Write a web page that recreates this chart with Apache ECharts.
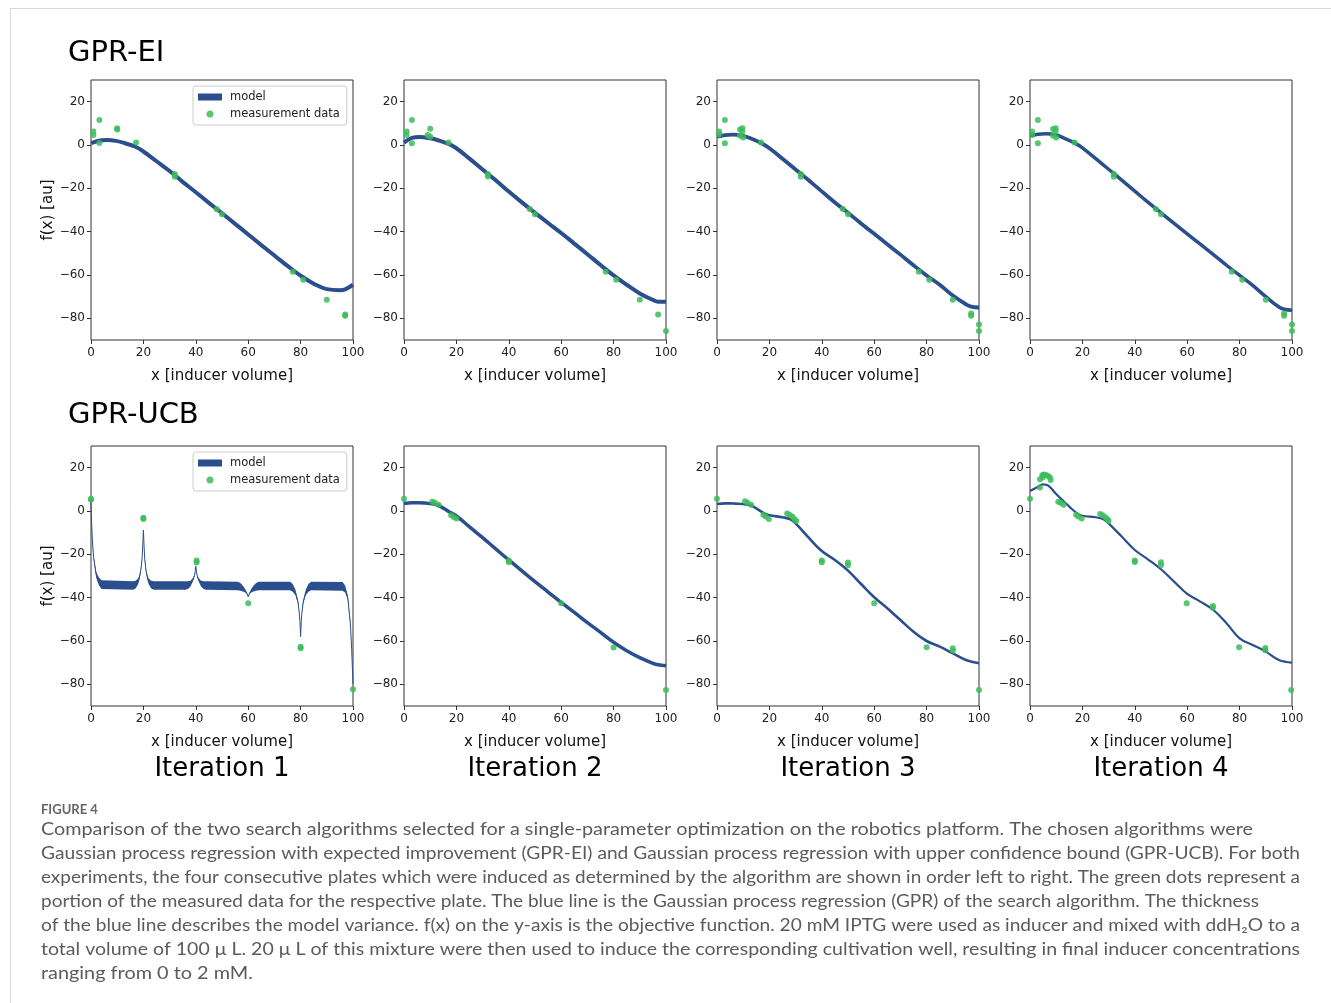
<!DOCTYPE html>
<html>
<head>
<meta charset="utf-8">
<title>GPR-EI / GPR-UCB</title>
<script src="https://cdn.jsdelivr.net/npm/echarts@6/dist/echarts.min.js"></script>
<style>
  html, body { margin: 0; padding: 0; background: #fff; }
  #main { width: 1331px; height: 1003px; }
</style>
</head>
<body>
<div id="main"></div>
<script>
// ---- model curves (x grid + mean) ----
const curveX = [0, 3, 6, 10, 13, 17, 20, 25, 30, 35, 40, 45, 50, 55, 60, 65, 70, 75, 80, 85, 90, 95, 97, 100];
const curveX2 = [0, 3, 5, 7, 10, 13, 15, 18, 20, 25, 28, 30, 35, 40, 45, 50, 55, 60, 65, 70, 75, 80, 85, 90, 95, 100];

const ei1Mean = [0.8, 2, 2.3, 1.8, 0.8, -0.8, -3, -7.5, -12, -17, -21.8, -26.7, -31.5, -36.4, -41.3, -46.2, -51, -55.8, -60.3, -64, -66.5, -67, -66.6, -64.5];
const ei2Mean = [1, 3.3, 3.7, 3.1, 2.2, 0.5, -1.5, -6.3, -11.3, -16.3, -21.5, -26.5, -31.3, -36, -40.6, -45.5, -50.4, -55.4, -60.2, -64.5, -68.5, -71.5, -72.3, -72.3];
const ei3Mean = [3.8, 4.6, 4.8, 4.2, 3, 0.8, -1.5, -6.3, -11.3, -16.3, -21.4, -26.5, -31.3, -36.2, -41, -45.8, -50.6, -55.5, -60.2, -64.5, -69.5, -73.5, -74.6, -75];
const ei4Mean = [4.2, 5, 5.2, 4.6, 3.2, 1, -1.3, -6.2, -11.2, -16.2, -21.3, -26.4, -31.3, -36.2, -41, -45.8, -50.6, -55.5, -60.2, -64.8, -70, -74.8, -75.8, -76.3];
const ucb2Mean = [3.5, 3.8, 3.8, 3.4, 2.6, -0.2, -2.3, -7.3, -12.3, -17.5, -22.6, -27.6, -32.6, -37.4, -42.2, -46.8, -51.5, -56, -60.6, -64.5, -67.7, -70.3, -71, -71.4];
const ucb3Mean = [3.2, 3.5, 3.5, 3.4, 3.2, 2.5, 1.2, -1.1, -2, -2.9, -3.8, -5.7, -12.3, -18.5, -22.6, -27.5, -33.7, -39.8, -44.9, -50.3, -55.7, -60, -62.6, -65.7, -68.8, -70.3];
const ucb4Mean = [9.2, 11.2, 12.3, 11.7, 7.8, 4.3, 2, -1.1, -2.2, -2.9, -3.8, -5.7, -11.8, -18, -22.3, -26.9, -32.6, -38.3, -41.8, -45.7, -51.8, -58.8, -61.8, -64.9, -68.8, -70];

// GPR-UCB iteration 1: mean and half thickness (model variance)
const ucb1X = [0, 0.25, 0.5, 1, 2, 3, 4, 16, 17, 18, 18.5, 19, 19.5, 19.75, 20, 20.25, 20.5, 21, 21.5, 22, 23, 24,
  36, 37, 38, 39, 39.5, 39.75, 40, 40.25, 40.5, 41, 42, 43, 44,
  56, 57, 58, 59, 59.5, 60, 60.5, 61, 62, 63, 64,
  76, 77, 78, 79, 79.5, 79.75, 80, 80.25, 80.5, 81, 82, 83, 84,
  96, 97, 98, 99, 99.5, 100];
const ucb1Mean = [4, -6, -13, -21.5, -29.5, -32.5, -34, -34.4, -34, -32.5, -30.5, -27.5, -22, -16, -8.8, -16, -22, -27.5, -30.5, -32.5, -34, -34.4,
  -34.4, -34.2, -33.5, -31.5, -29.8, -28, -25.5, -28, -29.8, -31.5, -33.5, -34.2, -34.4,
  -34.6, -35, -35.8, -37, -38, -39.6, -38, -37, -35.8, -35, -34.6,
  -34.6, -35.5, -37.5, -42, -47, -51, -58, -51, -47, -42, -37.5, -35.5, -34.6,
  -34.8, -36, -40, -52, -64, -80];
const ucb1Half = [0, 0.1, 0.3, 0.7, 1.3, 1.8, 2, 2, 1.8, 1.3, 1, 0.7, 0.3, 0.1, 0, 0.1, 0.3, 0.7, 1, 1.3, 1.8, 2,
  2, 1.8, 1.3, 0.7, 0.3, 0.1, 0, 0.1, 0.3, 0.7, 1.3, 1.8, 2,
  2, 1.8, 1.3, 0.7, 0.3, 0, 0.3, 0.7, 1.3, 1.8, 2,
  2, 1.8, 1.3, 0.7, 0.3, 0.1, 0, 0.1, 0.3, 0.7, 1.3, 1.8, 2,
  2, 1.6, 1, 0.4, 0.1, 0];

// ---- measurement data ----
const ei1PtsX = [0.9, 0.9, 3.2, 3.2, 10, 10, 17.2, 32, 32, 48, 50, 77, 81, 90, 97, 97];
const ei1PtsY = [6.2, 4.6, 11.5, 0.9, 7.7, 7.2, 1.1, -13.4, -14.6, -29.7, -32, -58.5, -62.2, -71.4, -78.2, -78.8];
const ei2PtsX = [1, 1, 3, 3, 9, 10, 10, 17, 32, 32, 48, 50, 77, 81, 90, 97, 100];
const ei2PtsY = [6.2, 4.6, 11.5, 0.8, 4.6, 7.5, 3.8, 1.1, -13.4, -14.5, -29.5, -32, -58.5, -62.2, -71.4, -78.2, -85.8];
const ei3PtsX = [0.8, 0.8, 3, 3, 8.8, 9.7, 9.7, 8.8, 10, 16.8, 32, 32, 48, 50, 77, 81, 90, 97, 97, 100, 100];
const ei3PtsY = [6.2, 4.9, 11.5, 0.8, 7.2, 7.7, 6.2, 4.3, 3.5, 1.1, -13.4, -14.6, -29.5, -32, -58.5, -62.2, -71.4, -77.8, -78.8, -82.8, -85.8];
const ei4PtsX = [0.8, 0.8, 3, 3, 8.8, 9.8, 9.8, 8.8, 10, 17, 32, 32, 48, 50, 77, 81, 90, 97, 97, 100, 100];
const ei4PtsY = [6.2, 4.6, 11.5, 0.8, 7.4, 7.7, 6.2, 4.3, 3.5, 1.1, -13.4, -14.6, -29.5, -32, -58.5, -62.2, -71.4, -77.8, -78.8, -82.8, -85.8];
const ucb1PtsX = [0, 0, 20, 20, 40.3, 40.3, 60, 80, 80, 100];
const ucb1PtsY = [5.7, 5.2, -3.1, -3.7, -22.9, -23.8, -42.6, -62.6, -63.4, -82.3];
const ucb2PtsX = [0, 10.8, 11.8, 13.2, 18, 19, 20, 40, 40, 60, 80, 100];
const ucb2PtsY = [5.7, 4.3, 3.8, 2.9, -2, -2.8, -3.5, -22.9, -23.7, -42.6, -63, -82.6];
const ucb3PtsX = [0, 10.7, 11.7, 13, 17.7, 18.6, 19.8, 26.8, 27.8, 28.8, 29.6, 30.3, 40, 40, 50, 50, 60, 80, 90, 90, 100];
const ucb3PtsY = [5.7, 4.5, 3.8, 2.9, -1.7, -2.5, -3.7, -1.1, -1.8, -2.6, -3.8, -4.6, -22.9, -23.7, -23.8, -25, -42.6, -62.9, -63.4, -64.5, -82.6];
const ucb4PtsX = [0, 3.8, 3.8, 4.7, 4.8, 5.3, 6.1, 6.9, 7.6, 7.9, 10.8, 11.7, 12.8, 17.6, 18.4, 19.7, 26.8, 27.7, 28.8, 29.5, 30, 40, 40, 50, 50, 59.8, 69.8, 69.8, 79.8, 89.8, 89.8, 99.7];
const ucb4PtsY = [5.7, 14.6, 10.8, 16.5, 15.5, 16.8, 16.6, 16.2, 15.5, 14.3, 4.3, 3.8, 2.9, -1.7, -2.5, -3.5, -1.4, -2, -2.9, -3.8, -4.6, -22.9, -23.5, -23.7, -25, -42.6, -43.8, -44.6, -62.9, -63.2, -64.3, -82.6];

const yTicks = [-80, -60, -40, -20, 0, 20];
const rowTitles = ['GPR-EI', 'GPR-UCB'];
const colTitles = ['Iteration 1', 'Iteration 2', 'Iteration 3', 'Iteration 4'];
const captionHead = 'FIGURE 4';
const captionLines = [
  'Comparison of the two search algorithms selected for a single-parameter optimization on the robotics platform. The chosen algorithms were',
  'Gaussian process regression with expected improvement (GPR-EI) and Gaussian process regression with upper confidence bound (GPR-UCB). For both',
  'experiments, the four consecutive plates which were induced as determined by the algorithm are shown in order left to right. The green dots represent a',
  'portion of the measured data for the respective plate. The blue line is the Gaussian process regression (GPR) of the search algorithm. The thickness',
  'of the blue line describes the model variance. f(x) on the y-axis is the objective function. 20 mM IPTG were used as inducer and mixed with ddH\u2082O to a',
  'total volume of 100 \u03bc L. 20 \u03bc L of this mixture were then used to induce the corresponding cultivation well, resulting in final inducer concentrations',
  'ranging from 0 to 2 mM.'
];

const panels = [
  { x: curveX, mean: ei1Mean, px: ei1PtsX, py: ei1PtsY },
  { x: curveX, mean: ei2Mean, px: ei2PtsX, py: ei2PtsY },
  { x: curveX, mean: ei3Mean, px: ei3PtsX, py: ei3PtsY },
  { x: curveX, mean: ei4Mean, px: ei4PtsX, py: ei4PtsY },
  { x: ucb1X, mean: ucb1Mean, half: ucb1Half, px: ucb1PtsX, py: ucb1PtsY },
  { x: curveX, mean: ucb2Mean, px: ucb2PtsX, py: ucb2PtsY },
  { x: curveX2, mean: ucb3Mean, px: ucb3PtsX, py: ucb3PtsY },
  { x: curveX2, mean: ucb4Mean, px: ucb4PtsX, py: ucb4PtsY }
];
const lineWidths = [4, 4, 3.8, 3.5, 1, 3.5, 2.6, 2.2];

const BLUE = '#2b4f8e';
const GREEN = '#3cbc5a';
const FONT = 'DejaVu Sans';
const colLeft = [91, 404, 717, 1030];
const rowTop = [80, 446];
const W = 262, H = 260;

const minus = v => String(v).replace('-', '\u2212');

const grids = [], xAxes = [], yAxes = [], series = [];
panels.forEach((p, i) => {
  const r = Math.floor(i / 4), c = i % 4;
  grids.push({
    left: colLeft[c], top: rowTop[r], width: W, height: H,
    show: true, borderColor: '#333', borderWidth: 1
  });
  xAxes.push({
    gridIndex: i, type: 'value', min: 0, max: 100, interval: 20,
    name: 'x [inducer volume]', nameLocation: 'middle', nameGap: 29,
    nameTextStyle: { fontSize: 15, color: '#111', fontFamily: FONT },
    axisLine: { show: false, onZero: false },
    axisTick: { show: true, length: 4, lineStyle: { color: '#333' } },
    axisLabel: { fontSize: 12, color: '#222', margin: 7, fontFamily: FONT },
    splitLine: { show: false }
  });
  yAxes.push({
    gridIndex: i, type: 'value', min: -90, max: 30,
    name: c === 0 ? 'f(x) [au]' : '', nameLocation: 'middle', nameGap: 35, nameRotate: 90,
    nameTextStyle: { fontSize: 15, color: '#111', fontFamily: FONT },
    axisLine: { show: false, onZero: false },
    axisTick: { show: true, length: 4, customValues: yTicks, lineStyle: { color: '#333' } },
    axisLabel: { fontSize: 12, color: '#222', margin: 6, fontFamily: FONT, customValues: yTicks, formatter: minus },
    splitLine: { show: false }
  });

  if (p.half) {
    // variance band drawn as one polygon through the axis scales
    series.push({
      type: 'custom', name: 'model', xAxisIndex: i, yAxisIndex: i, color: BLUE, clip: true, silent: true, z: 1,
      data: p.x.map((x, j) => [x, p.mean[j] - p.half[j], p.mean[j] + p.half[j]]),
      encode: { x: 0, y: [1, 2] },
      renderItem: (params, api) => {
        if (params.dataIndex !== 0) return null;
        const up = p.x.map((x, j) => api.coord([x, p.mean[j] + p.half[j]]));
        const lo = p.x.map((x, j) => api.coord([x, p.mean[j] - p.half[j]])).reverse();
        return { type: 'polygon', shape: { points: up.concat(lo) }, style: { fill: BLUE } };
      }
    });
  }
  series.push({
    type: 'line', name: 'model', xAxisIndex: i, yAxisIndex: i, color: BLUE,
    data: p.x.map((x, j) => [x, p.mean[j]]),
    showSymbol: false, smooth: p.half ? false : 0.4,
    lineStyle: { color: BLUE, width: lineWidths[i] }, z: 2
  });
  series.push({
    type: 'scatter', name: 'measurement data', xAxisIndex: i, yAxisIndex: i, color: GREEN,
    data: p.px.map((x, j) => [x, p.py[j]]),
    symbolSize: 6, itemStyle: { color: GREEN, opacity: 0.85 }, z: 3
  });
});

const legendBase = {
  left: 193, orient: 'vertical', selectedMode: false,
  data: [{ name: 'model', icon: 'rect' }, { name: 'measurement data', icon: 'circle' }],
  itemWidth: 24, itemHeight: 7, itemGap: 5, padding: [5, 7, 5, 5],
  borderColor: '#cccccc', borderWidth: 1, borderRadius: 3, backgroundColor: 'rgba(255,255,255,0.85)',
  textStyle: { fontSize: 11.5, color: '#222', fontFamily: FONT, padding: [0, 0, 0, 3] }
};

// caption text, each line squeezed to its width in the original layout
const captionTargets = [1212, 1259, 1259, 1218, 1259, 1259, 212];
const capFont = '17px Lato, sans-serif';
const ctx = document.createElement('canvas').getContext('2d');
ctx.font = capFont;

const graphics = [
  { type: 'line', shape: { x1: 10, y1: 8.5, x2: 1331, y2: 8.5 }, style: { stroke: '#d9d9d9', lineWidth: 1 } },
  { type: 'line', shape: { x1: 10.5, y1: 8, x2: 10.5, y2: 1003 }, style: { stroke: '#d9d9d9', lineWidth: 1 } }
];
rowTitles.forEach((t, r) => {
  graphics.push({ type: 'text', x: 68, y: r === 0 ? 53 : 415,
    style: { text: t, font: '29px "DejaVu Sans"', fill: '#000', verticalAlign: 'middle', align: 'left' } });
});
colTitles.forEach((t, c) => {
  graphics.push({ type: 'text', x: colLeft[c] + W / 2, y: 769,
    style: { text: t, font: '26px "DejaVu Sans"', fill: '#000', verticalAlign: 'middle', align: 'center' } });
});
graphics.push({ type: 'text', x: 41, y: 810,
  style: { text: captionHead, font: 'bold 13px Lato, sans-serif', fill: '#666', verticalAlign: 'middle' } });
captionLines.forEach((t, k) => {
  const w = ctx.measureText(t).width;
  const s = captionTargets[k] ? captionTargets[k] / w : 1;
  graphics.push({ type: 'text', x: 41, y: 830 + 24 * k, scaleX: s,
    style: { text: t, font: capFont, fill: '#5b5b5b', verticalAlign: 'middle' } });
});

const option = {
  backgroundColor: '#fff',
  animation: false,
  grid: grids,
  xAxis: xAxes,
  yAxis: yAxes,
  legend: [
    Object.assign({}, legendBase, { top: 86 }),
    Object.assign({}, legendBase, { top: 452 })
  ],
  graphic: graphics,
  series: series
};

const myChart = echarts.init(document.getElementById('main'));
myChart.setOption(option);
</script>
</body>
</html>
